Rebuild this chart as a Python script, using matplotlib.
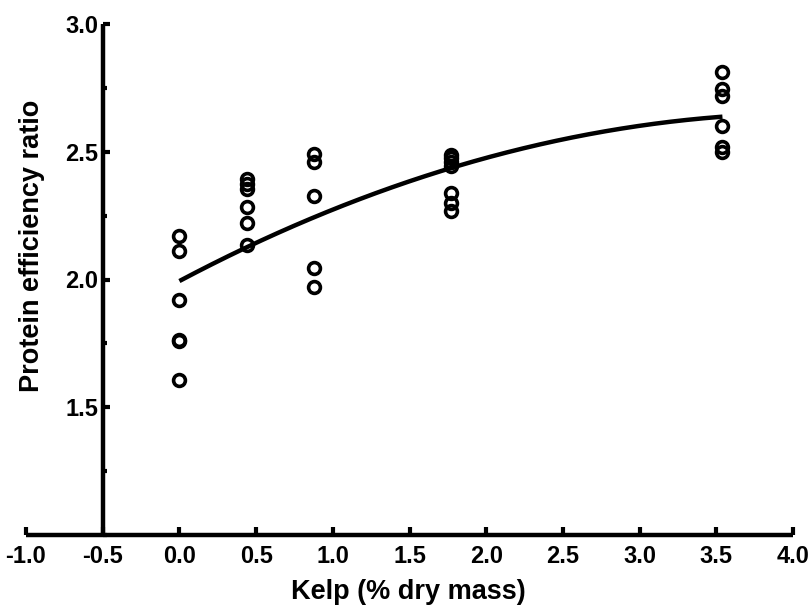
import numpy as np
import matplotlib.pyplot as plt
from matplotlib.ticker import MultipleLocator

plt.rcParams['font.family'] = ['Liberation Sans', 'DejaVu Sans']
plt.rcParams['font.weight'] = 'bold'

# kelp inclusion levels (% dry mass) and protein efficiency ratio per tank
kelp_0 = [2.17, 2.11, 1.92, 1.765, 1.76, 1.607]
kelp_044 = [2.395, 2.375, 2.355, 2.285, 2.22, 2.135]
kelp_088 = [2.49, 2.46, 2.327, 2.045, 1.97]
kelp_177 = [2.487, 2.475, 2.461, 2.445, 2.34, 2.30, 2.27]
kelp_354 = [2.813, 2.745, 2.72, 2.601, 2.52, 2.50]

levels = [0.0, 0.44, 0.88, 1.77, 3.54]
groups = [kelp_0, kelp_044, kelp_088, kelp_177, kelp_354]

# second order polynomial fit: a + b*x + c*x^2
fit_coef = [1.994, 0.318, -0.0385]

fig = plt.figure(figsize=(8.11, 6.10), dpi=100)
ax = fig.add_axes([26 / 811, 1 - 535 / 610, 767 / 811, 511 / 610])

for lvl, vals in zip(levels, groups):
    ax.plot([lvl] * len(vals), vals, 'o', mfc='none', mec='black',
            ms=8.5, mew=2.6, clip_on=False)

xs = np.linspace(levels[0], levels[-1], 200)
ys = fit_coef[0] + fit_coef[1] * xs + fit_coef[2] * xs ** 2
ax.plot(xs, ys, color='black', lw=3.2, solid_capstyle='butt')

ax.set_xlim(-1.0, 4.0)
ax.set_ylim(1.0, 3.0)

ax.spines['top'].set_visible(False)
ax.spines['right'].set_visible(False)
ax.spines['left'].set_position(('data', -0.5))
for side in ('left', 'bottom'):
    ax.spines[side].set_linewidth(3.2)
    ax.spines[side].set_capstyle('butt')

ax.xaxis.set_major_locator(MultipleLocator(0.5))
ax.set_yticks([1.5, 2.0, 2.5, 3.0])
ax.yaxis.set_minor_locator(MultipleLocator(0.25))
ax.xaxis.set_major_formatter(plt.FormatStrFormatter('%.1f'))
ax.yaxis.set_major_formatter(plt.FormatStrFormatter('%.1f'))

ax.tick_params(axis='x', which='major', direction='in', length=6, width=3,
               labelsize=17, pad=7)
ax.tick_params(axis='y', which='major', direction='in', length=5, width=3,
               labelsize=17, pad=3)
ax.tick_params(axis='y', which='minor', direction='in', length=3, width=3)
for lab in ax.get_xticklabels() + ax.get_yticklabels():
    lab.set_fontweight('bold')

fig.text(0.503, 0.0295, 'Kelp (% dry mass)', ha='center', va='center',
         fontsize=19.5, fontweight='bold')
fig.text(32 / 811, 1 - 246 / 610, 'Protein efficiency ratio', ha='center',
         va='center', rotation=90, fontsize=19.5, fontweight='bold')

fig.savefig('out.png', dpi=100)
